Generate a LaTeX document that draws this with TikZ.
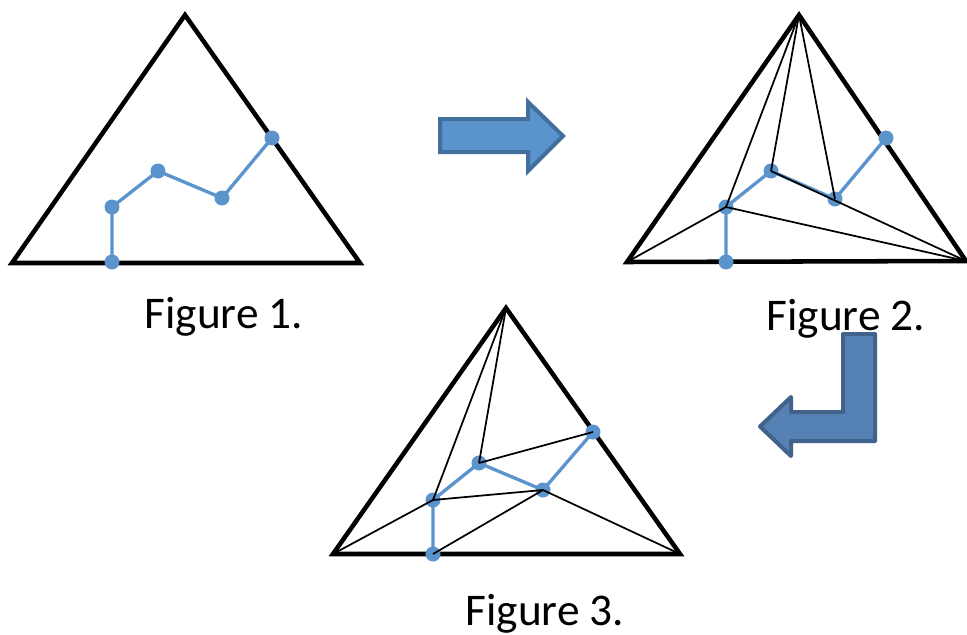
\documentclass[tikz,border=0pt]{standalone}
\usepackage{fontspec}
\setmainfont{Carlito}
\definecolor{pathblue}{HTML}{5B93CC}
\definecolor{arrowline}{HTML}{42709E}
\definecolor{lfill}{HTML}{5581B4}
\definecolor{lline}{HTML}{41628A}
\begin{document}
\begin{tikzpicture}[x=0.75pt,y=-0.75pt]
		\tikzstyle{every node}=[font=\fontsize{34pt}{40pt}\selectfont]
		\tikzstyle{tri}=[line width=3.4pt,line join=miter]
		\tikzstyle{chord}=[line width=1.3pt]
		\tikzstyle{walk}=[pathblue,line width=2.5pt]
		\tikzstyle{dot}=[fill=pathblue]
		
		\useasboundingbox (0,0) rectangle (967,635);
		
		% figure 1
		\coordinate (A) at (185,15);
		\coordinate (L1) at (12,263);
		\coordinate (R1) at (360,263);
		\coordinate (a1) at (112,262);
		\coordinate (a2) at (112,207);
		\coordinate (a3) at (158,171);
		\coordinate (a4) at (222,198);
		\coordinate (a5) at (272,138);
		
		\draw [tri] (A) -- (L1) -- (R1) -- cycle;
		\draw [walk] (a1) -- (a2) -- (a3) -- (a4) -- (a5);
		\fill [dot] (a1) circle (7.5);
		\fill [dot] (a2) circle (7.5);
		\fill [dot] (a3) circle (7.5);
		\fill [dot] (a4) circle (7.5);
		\fill [dot] (a5) circle (7.5);
		
		\node (f1) [anchor=base] at (224,328) {Figure 1.};
		
		% figure 2
		\coordinate (B) at (799,15);
		\coordinate (L2) at (627,262);
		\coordinate (R2) at (966,261);
		\coordinate (b1) at (726,262);
		\coordinate (b2) at (726,207);
		\coordinate (b3) at (771,171);
		\coordinate (b4) at (835,199);
		\coordinate (b5) at (886,138);
		
		\draw [tri] (B) -- (L2) -- (R2) -- cycle;
		\draw [walk] (b1) -- (b2) -- (b3) -- (b4) -- (b5);
		\fill [dot] (b1) circle (7.5);
		\fill [dot] (b2) circle (7.5);
		\fill [dot] (b3) circle (7.5);
		\fill [dot] (b4) circle (7.5);
		\fill [dot] (b5) circle (7.5);
		
		\draw [chord] (B) -- (b2);
		\draw [chord] (B) -- (b3);
		\draw [chord] (B) -- (b4);
		\draw [chord] (L2) -- (b2);
		\draw [chord] (R2) -- (b2);
		\draw [chord] (R2) -- (b3);
		
		\node (f2) [anchor=base] at (846,330) {Figure 2.};
		
		% figure 3
		\coordinate (C) at (506,308);
		\coordinate (L3) at (333,554);
		\coordinate (R3) at (680,554);
		\coordinate (c1) at (433,554);
		\coordinate (c2) at (433,500);
		\coordinate (c3) at (479,463);
		\coordinate (c4) at (543,490);
		\coordinate (c5) at (593,432);
		
		\draw [tri] (C) -- (L3) -- (R3) -- cycle;
		\draw [walk] (c1) -- (c2) -- (c3) -- (c4) -- (c5);
		\fill [dot] (c1) circle (7.5);
		\fill [dot] (c2) circle (7.5);
		\fill [dot] (c3) circle (7.5);
		\fill [dot] (c4) circle (7.5);
		\fill [dot] (c5) circle (7.5);
		
		\draw [chord] (C) -- (c2);
		\draw [chord] (C) -- (c3);
		\draw [chord] (c3) -- (c5);
		\draw [chord] (c2) -- (c4);
		\draw [chord] (L3) -- (c2);
		\draw [chord] (c1) -- (c4);
		\draw [chord] (c4) -- (R3);
		
		\node (f3) [anchor=base] at (545,625) {Figure 3.};
		
		% arrows
		\draw [line width=3pt,fill=pathblue,draw=arrowline] (440,119) -- (528,119) -- (528,102) -- (563,136) -- (528,171) -- (528,152) -- (440,152) -- cycle;
		\draw [line width=3pt,fill=lfill,draw=lline,line join=round] (843,334) -- (875,334) -- (875,441) -- (791,441) -- (791,456) -- (760,426.5) -- (791,397) -- (791,412) -- (843,412) -- cycle;
		
	\end{tikzpicture}
\end{document}
